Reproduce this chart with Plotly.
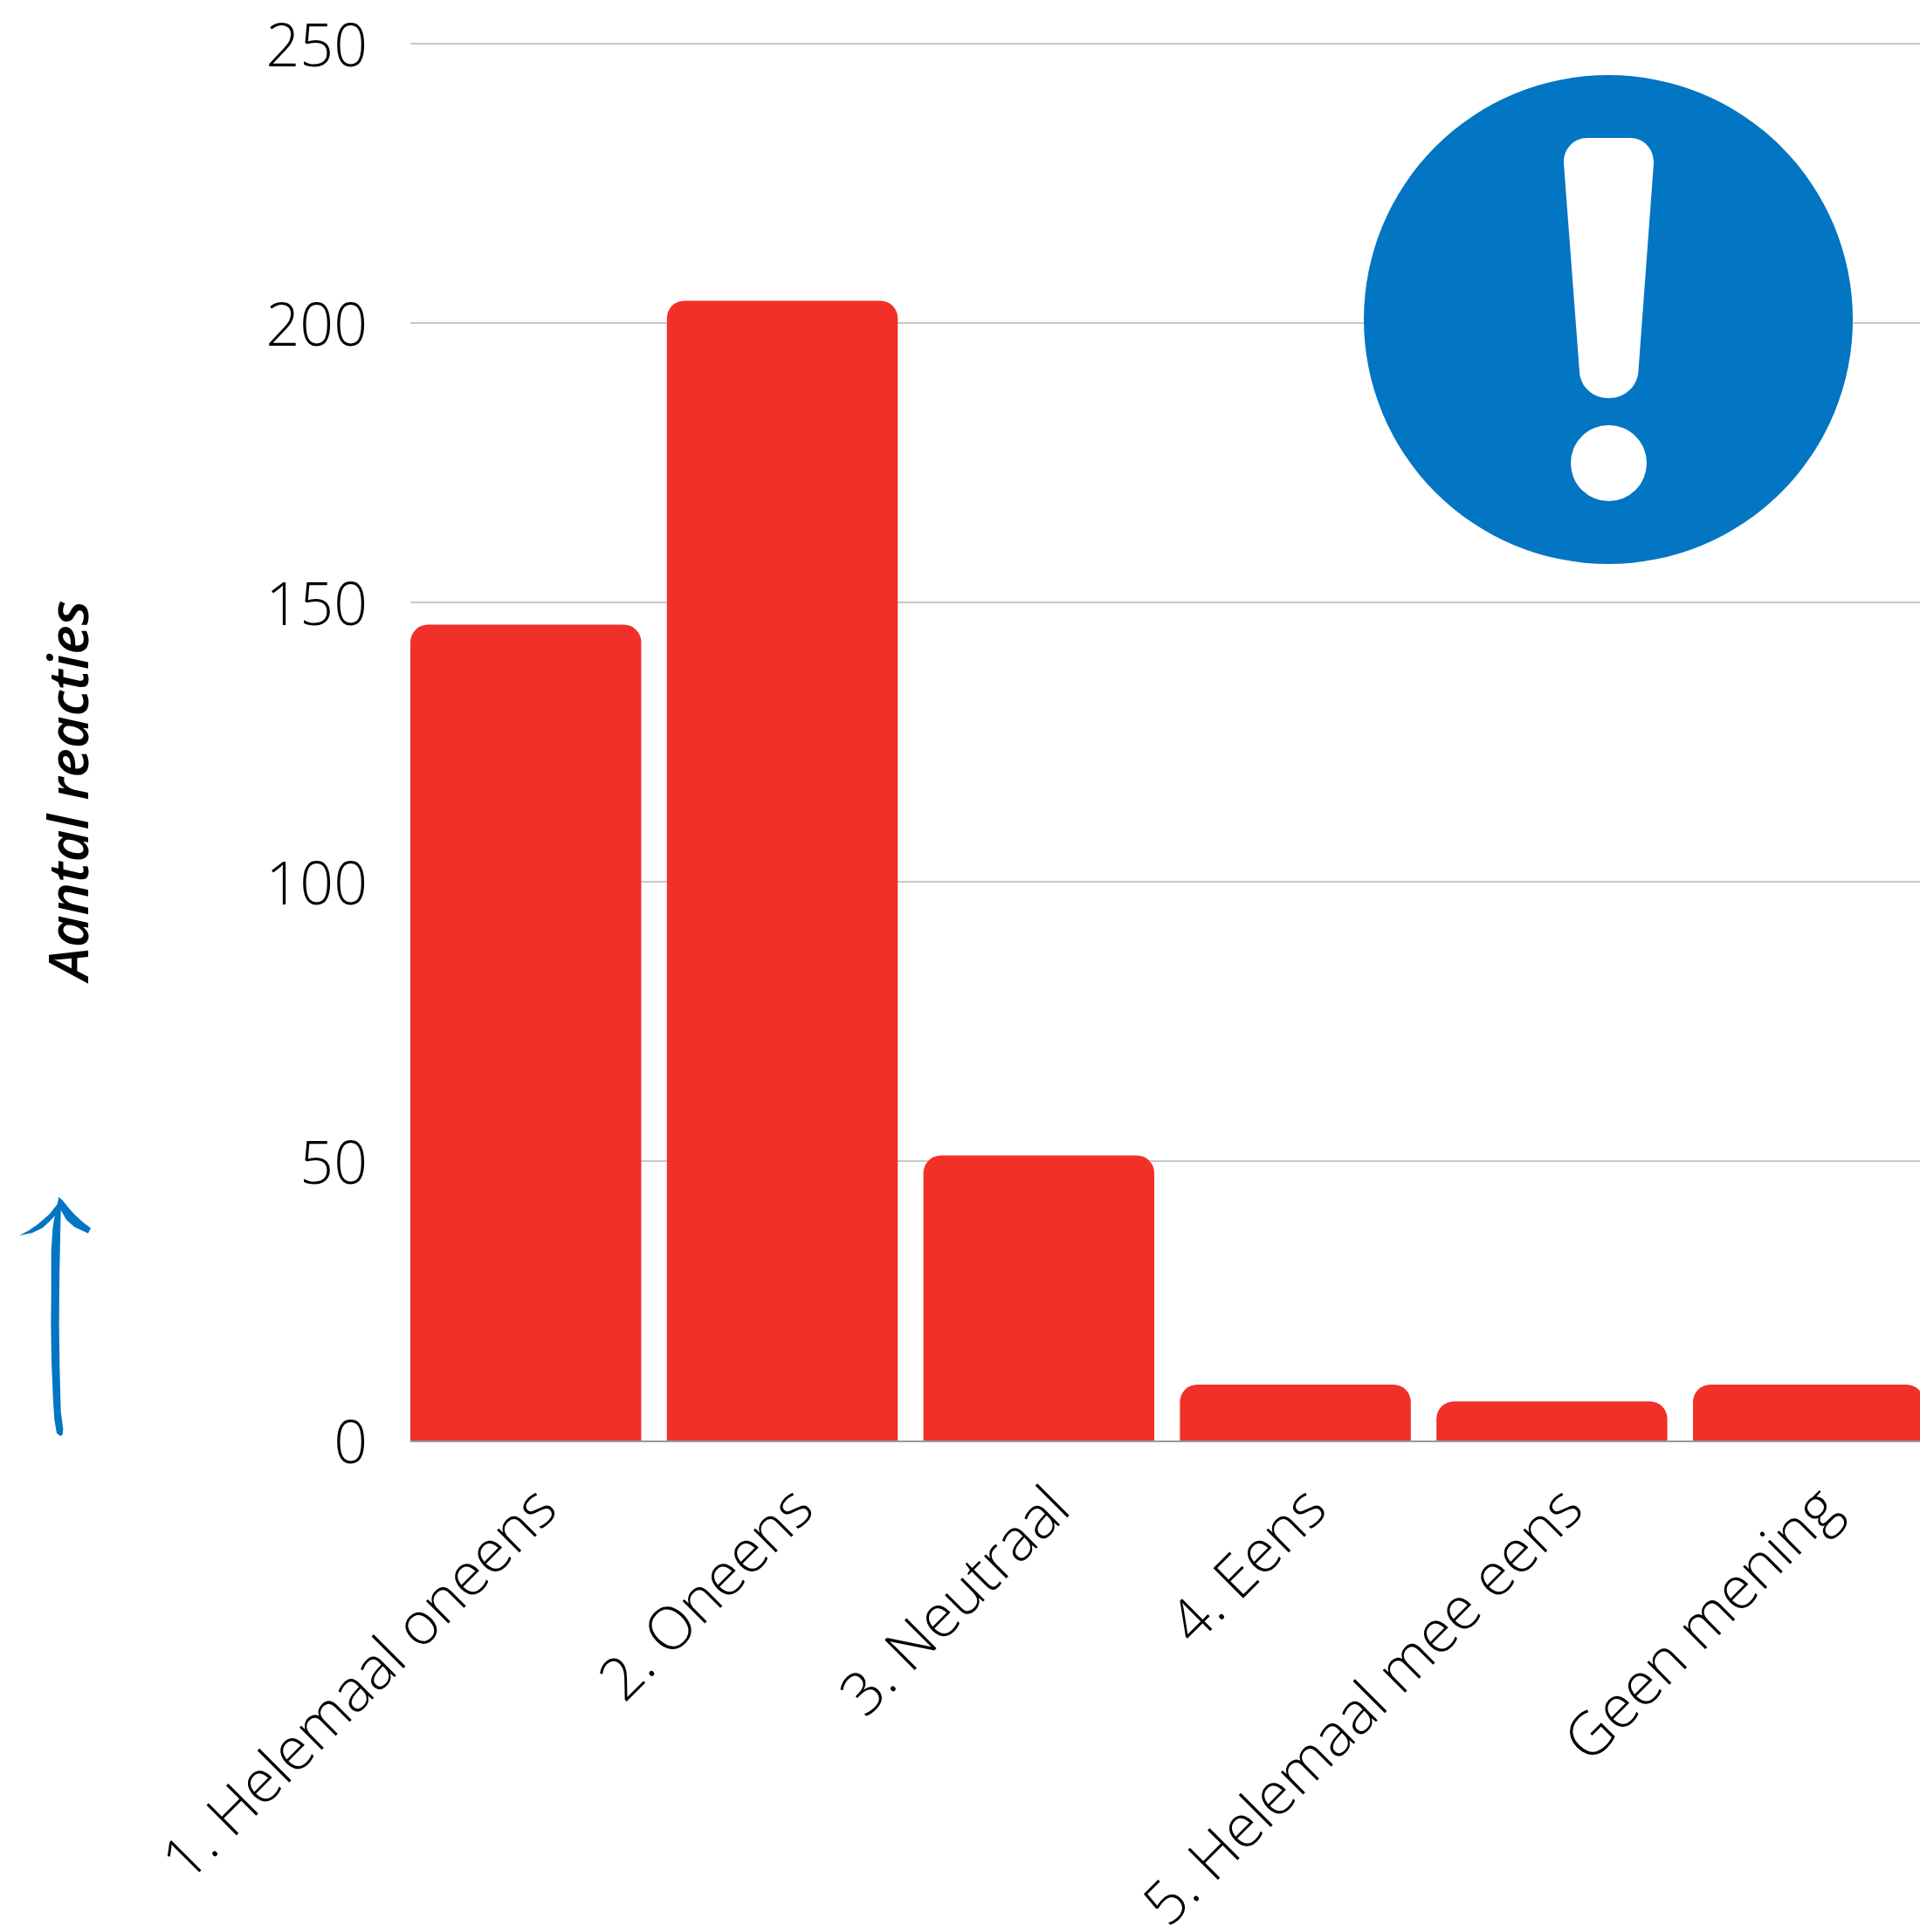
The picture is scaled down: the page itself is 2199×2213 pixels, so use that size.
import plotly.graph_objects as go

W = 2199
H = 2213

categories = ["1. Helemaal oneens", "2. Oneens", "3. Neutraal", "4. Eens", "5. Helemaal mee eens", "Geen mening"]
reacties = [146, 204, 51, 10, 7, 10]
y_ticks = [0, 50, 100, 150, 200, 250]

RED = "#f1302a"
BLUE = "#0275c3"


# page pixels to paper fractions, plot area runs 470..2199 and 42..1650
def px(x):
    return (x - 470) / (W - 470)


def py(y):
    return (1650 - y) / 1608


def path(cmds):
    out = []
    for c, *pts in cmds:
        out.append(c + " ".join(f"{px(p[0]):.5f},{py(p[1]):.5f}" for p in pts))
    return " ".join(out) + " Z"


fig = go.Figure(go.Bar(
    x=categories,
    y=reacties,
    marker=dict(color=RED, cornerradius=20, line_width=0),
))

# info icon top right
fig.add_shape(type="circle", xref="paper", yref="paper", layer="above", line_width=0, fillcolor=BLUE,
              x0=px(1562), x1=px(2122), y0=py(646), y1=py(86))
fig.add_shape(type="path", xref="paper", yref="paper", layer="above", line_width=0, fillcolor="white",
              path=path([
                  ("M", (1818, 158)), ("L", (1867, 158)), ("C", (1883, 158), (1894.5, 171), (1894, 187)),
                  ("L", (1876.4, 426)), ("C", (1875, 443), (1861, 456), (1842.5, 456)),
                  ("C", (1824, 456), (1810, 443), (1809, 426)), ("L", (1791, 187)),
                  ("C", (1790.5, 171), (1802, 158), (1818, 158)),
              ]))
fig.add_shape(type="circle", xref="paper", yref="paper", layer="above", line_width=0, fillcolor="white",
              x0=px(1799), x1=px(1886), y0=py(574), y1=py(487))

arrow = [(202, 213), (215, 225), (235, 250), (255, 272), (285, 300), (312, 320), (303, 338), (280, 328),
         (255, 316), (228, 292), (209, 258), (207, 350), (204, 500), (203, 650), (205, 800), (209, 950),
         (217, 1010), (215, 1030), (208, 1035), (195, 1025), (187, 980), (182, 900), (177, 780), (175, 650),
         (176, 550), (176, 400), (181, 320), (188, 278), (170, 298), (145, 320), (110, 337), (66, 346),
         (100, 328), (130, 307), (170, 272), (197, 238)]
arrow_px = [(a / 3, 1300 + b / 3) for a, b in arrow]
fig.add_shape(type="path", xref="paper", yref="paper", layer="above", line_width=0, fillcolor=BLUE,
              path=path([("M", arrow_px[0])] + [("L", p) for p in arrow_px[1:]]))

fig.add_annotation(text="Aantal reacties", xref="paper", yref="paper",
                   x=px(76), y=py(907), textangle=-90, showarrow=False, xanchor="center", yanchor="middle",
                   font=dict(family="Open Sans", size=63.5, color="black", style="italic", weight=600))

fig.update_layout(
    width=W,
    height=H,
    margin=dict(l=470, r=0, t=42, b=563, autoexpand=False),
    plot_bgcolor="white",
    paper_bgcolor="white",
    bargap=0.1,
    showlegend=False,
    font=dict(family="Open Sans", color="black"),
)
fig.update_xaxes(
    range=[-0.45, 5.435],
    automargin=False,
    tickangle=-45,
    tickfont=dict(family="Open Sans", size=68, weight=300, color="black"),
    showline=True,
    linecolor="#999999",
    linewidth=2,
    showgrid=False,
    ticks="",
    ticklabelstandoff=8,
    ticklabelshift=15,
)
fig.update_yaxes(
    range=[0, 251.25],
    automargin=False,
    tickvals=y_ticks,
    tickfont=dict(family="Open Sans", size=68, weight=300, color="black"),
    gridcolor="#c8c8c8",
    gridwidth=1.5,
    zeroline=False,
    ticks="",
    ticklabelstandoff=48,
    ticklabelshift=2,
)

fig.write_html("out.html", config=dict(displayModeBar=False), post_script="document.body.style.margin='0';")
